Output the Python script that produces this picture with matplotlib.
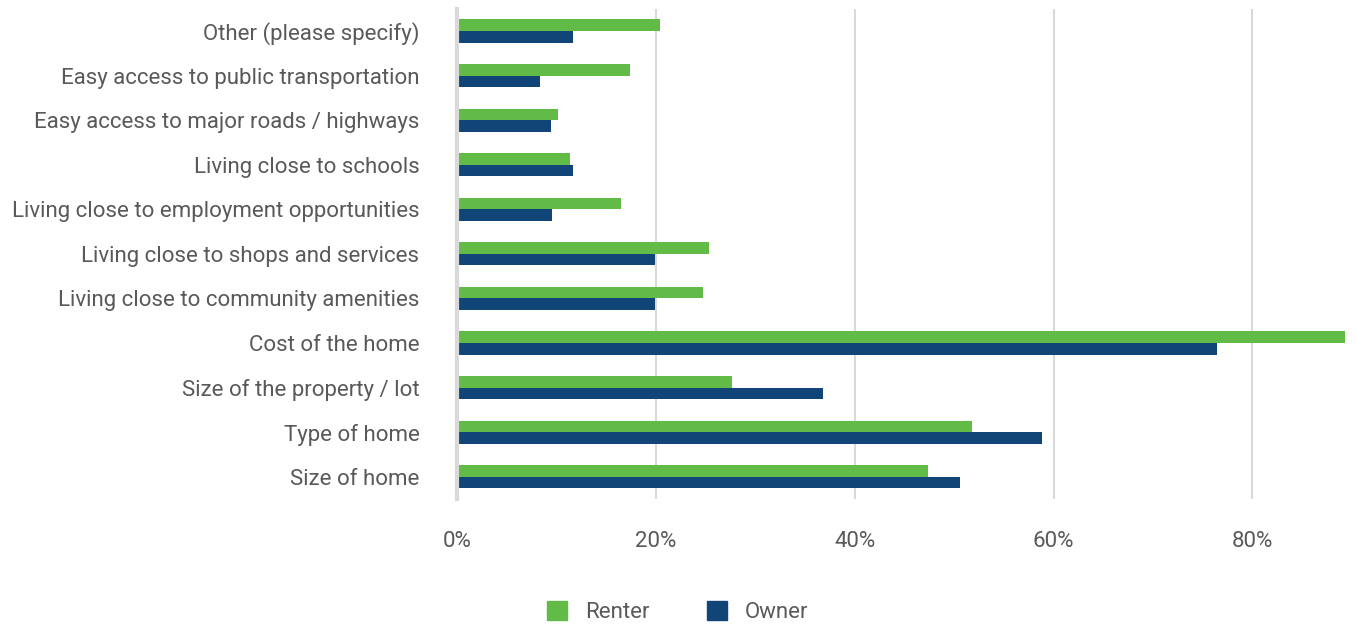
import numpy as np
import matplotlib.pyplot as plt
from matplotlib.patches import Patch

categories = [
    "Other (please specify)",
    "Easy access to public transportation",
    "Easy access to major roads / highways",
    "Living close to schools",
    "Living close to employment opportunities",
    "Living close to shops and services",
    "Living close to community amenities",
    "Cost of the home",
    "Size of the property / lot",
    "Type of home",
    "Size of home",
]
renter = [20.4, 17.4, 10.2, 11.4, 16.5, 25.3, 24.7, 89.3, 27.7, 51.8, 47.4]
owner = [11.7, 8.3, 9.5, 11.7, 9.6, 19.9, 19.9, 76.4, 36.8, 58.8, 50.6]
xticks = [0, 20, 40, 60, 80]

green = "#62BB46"
navy = "#124577"
grey_text = "#595959"

plt.rcParams['font.family'] = ['Roboto', 'DejaVu Sans']

fig = plt.figure(figsize=(13.56, 6.28), dpi=100)
ax = fig.add_axes([0.337, 0.2054, 0.66, 0.7806])

y = np.arange(len(categories))
h = 0.26
ax.barh(y - h / 2, renter, height=h, color=green, label="Renter", zorder=3)
ax.barh(y + h / 2, owner, height=h, color=navy, label="Owner", zorder=3)

ax.set_ylim(len(categories) - 0.5, -0.5)
ax.set_xlim(0, 90)
ax.set_yticks(y)
ax.set_yticklabels(categories, fontsize=16, color=grey_text)
ax.set_xticks(xticks)
ax.set_xticklabels([f"{t}%" for t in xticks], fontsize=16, color=grey_text)
ax.tick_params(axis='both', length=0)
ax.tick_params(axis='y', pad=27)
ax.tick_params(axis='x', pad=23)

ax.grid(axis='x', color="#d9d9d9", linewidth=1.5, zorder=0)
for s in ['top', 'right', 'bottom']:
    ax.spines[s].set_visible(False)
ax.spines['left'].set_color("#d9d9d9")
ax.spines['left'].set_linewidth(3)
ax.spines['left'].set_zorder(4)

handles = [Patch(color=green, label="Renter"), Patch(color=navy, label="Owner")]
fig.legend(handles=handles, loc='center', bbox_to_anchor=(0.5, 0.025),
           ncol=2, frameon=False, fontsize=16, labelcolor=grey_text,
           handlelength=0.9, handleheight=0.9, columnspacing=2.6, handletextpad=0.8)

fig.savefig("out.png", dpi=100)
